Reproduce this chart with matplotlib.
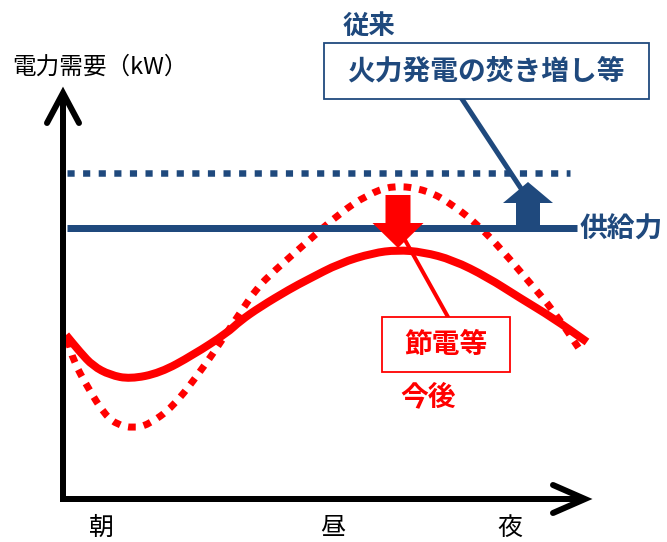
import numpy as np
import matplotlib
matplotlib.use("Agg")
import matplotlib.pyplot as plt
from matplotlib.patches import Rectangle, PathPatch
from matplotlib.path import Path

plt.rcParams['font.family'] = ['Noto Sans CJK JP', 'DejaVu Sans']

# 需要カーブ（図の座標系: 左上原点、ピクセル単位）
now_x = [66, 80, 93, 110, 130, 160, 193, 227, 240, 260, 290, 307, 340, 373, 397, 423, 453, 487, 520, 553, 587]
now_y = [335, 352, 366, 375, 379, 373, 355, 333, 321, 307, 289, 280, 263, 253, 250, 252, 260, 277, 298, 318, 342]

past_x = [68, 73, 88, 105, 118, 133, 148, 173, 203, 222, 240, 257, 273, 307, 340, 367, 393, 427, 453, 478, 502, 530, 553, 580]
past_y = [340, 360, 388, 415, 425, 428, 425, 407, 368, 340, 313, 288, 272, 242, 213, 195, 185, 190, 205, 225, 250, 283, 310, 350]

supply_past = 173   # 従来の供給力
supply_now = 228    # 供給力
supply_x = [67, 570]
supply_now_x = [67, 577]

time_labels = ['朝', '昼', '夜']
time_label_x = [101, 333, 510]

BLUE = '#1f497d'
RED = '#ff0000'


def smooth_path(xs, ys):
    # 点列を二次ベジェでなめらかにつなぐ
    p = np.column_stack([xs, ys]).astype(float)
    verts = [p[0], (p[0] + p[1]) / 2]
    codes = [Path.MOVETO, Path.LINETO]
    for i in range(1, len(p) - 1):
        verts += [p[i], (p[i] + p[i + 1]) / 2]
        codes += [Path.CURVE3, Path.CURVE3]
    verts.append(p[-1])
    codes.append(Path.LINETO)
    return Path(verts, codes)


fig = plt.figure(figsize=(6.67, 5.42), dpi=100)
ax = fig.add_axes([0, 0, 1, 1])
ax.set_xlim(0, 667)
ax.set_ylim(542, 0)
ax.axis('off')

px = 72 / 100  # pixel -> point

# 軸
ax.plot([63, 63], [499, 95], color='black', lw=6 * px, solid_capstyle='butt', zorder=5)
ax.plot([47, 63, 79], [123, 93, 123], color='black', lw=6 * px,
        solid_capstyle='round', solid_joinstyle='miter', zorder=5)
ax.plot([60, 582], [499, 499], color='black', lw=6 * px, solid_capstyle='butt', zorder=5)
ax.plot([553, 585, 553], [485, 499, 513], color='black', lw=6 * px,
        solid_capstyle='round', solid_joinstyle='miter', zorder=5)

# 需要カーブ
now_patch = PathPatch(smooth_path(now_x, now_y), facecolor='none', edgecolor=RED,
                      lw=8 * px, capstyle='butt', zorder=2)
ax.add_patch(now_patch)
past_patch = PathPatch(smooth_path(past_x, past_y), facecolor='none', edgecolor=RED,
                       lw=7 * px, linestyle=(0, (1.1, 1.15)), capstyle='butt', zorder=2)
ax.add_patch(past_patch)

# 供給力
ax.plot(supply_x, [supply_past] * 2, color=BLUE, lw=6.5 * px, dashes=(1.1, 1.3),
        dash_capstyle='butt', zorder=3)
ax.plot(supply_now_x, [supply_now] * 2, color=BLUE, lw=7 * px,
        solid_capstyle='butt', zorder=3)
ax.text(580, 230, '供給力', color=BLUE, fontsize=20, fontweight='bold',
        ha='left', va='center')

# 従来：火力発電の焚き増し等
ax.add_patch(Rectangle((324, 43), 325, 56, facecolor='white', edgecolor=BLUE,
                       lw=1.8 * px, zorder=4))
ax.text(486, 72, '火力発電の焚き増し等', color=BLUE, fontsize=20, fontweight='bold',
        ha='center', va='center', zorder=5)
ax.text(343, 26, '従来', color=BLUE, fontsize=19, fontweight='bold',
        ha='left', va='center')
ax.plot([462, 522], [99, 190], color=BLUE, lw=5 * px, zorder=3)
ax.arrow(528, supply_now, 0, -46, width=24, head_width=50, head_length=21,
         length_includes_head=True, color=BLUE, lw=0, zorder=4)

# 今後：節電等
ax.arrow(398, 195, 0, 53, width=25, head_width=51, head_length=25,
         length_includes_head=True, color=RED, lw=0, zorder=4)
ax.plot([405, 448], [240, 317], color=RED, lw=4 * px, zorder=4)
ax.add_patch(Rectangle((382, 317), 128, 55, facecolor='white', edgecolor=RED,
                       lw=1.8 * px, zorder=4))
ax.text(446, 345, '節電等', color=RED, fontsize=20, fontweight='bold',
        ha='center', va='center', zorder=5)
ax.text(428, 397, '今後', color=RED, fontsize=20, fontweight='bold',
        ha='center', va='center')

# 軸ラベル
ax.text(12, 67, '電力需要（kW）', color='black', fontsize=17, ha='left', va='center')
for lab, x in zip(time_labels, time_label_x):
    ax.text(x, 528, lab, color='black', fontsize=18, ha='center', va='center')

fig.savefig('out.png', dpi=100)
